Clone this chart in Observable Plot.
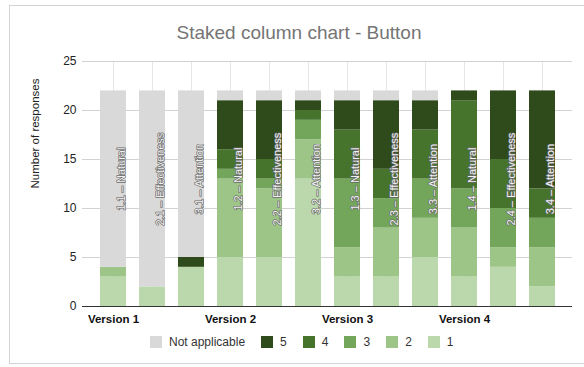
<!DOCTYPE html>
<html>
<head>
<meta charset="utf-8">
<script src="https://cdn.jsdelivr.net/npm/d3@7"></script>
<script src="https://cdn.jsdelivr.net/npm/@observablehq/plot@0.6"></script>
<style>
  body { margin: 0; background: #fff; font-family: "Liberation Sans", Arial, sans-serif; }
  #chart { position: relative; width: 584px; height: 367px; overflow: hidden; background: #fff; }
  .frame { position: absolute; left: 9px; top: 5px; width: 600px; height: 359px; border: 1px solid #d3d3d3; box-sizing: border-box; }
  .title { position: absolute; left: 0; width: 598px; top: 23px; text-align: center; font-size: 19px; line-height: 19px; color: #757575; white-space: nowrap; }
  #plot { position: absolute; left: 0; top: 0; }
  #legend { position: absolute; left: 150px; top: 335px; height: 13px; display: flex; align-items: center; font-size: 12px; color: #333; white-space: nowrap; }
  #legend .item { display: flex; align-items: center; margin-right: 16px; }
  #legend .item:last-child { margin-right: 0; }
  #legend .swatch { width: 12px; height: 12px; margin-right: 7px; }
</style>
</head>
<body>
<div id="chart">
  <div class="frame"></div>
  <div class="title">Staked column chart - Button</div>
  <div id="plot"></div>
  <div id="legend"></div>
</div>
<script>
// Questions, in display order (three per version)
const categories = [
  "1.1 – Natural", "2.1 – Effectiveness", "3.1 – Attention",
  "1.2 – Natural", "2.2 – Effectiveness", "3.2 – Attention",
  "1.3 – Natural", "2.3 – Effectiveness", "3.3 – Attention",
  "1.4 – Natural", "2.4 – Effectiveness", "3.4 – Attention"
];
const versions = ["Version 1", "Version 2", "Version 3", "Version 4"];
const versionStarts = ["1.1 – Natural", "1.2 – Natural", "1.3 – Natural", "1.4 – Natural"];

// Response counts per rating, one value per question
const rating1 = [3, 2, 4, 5, 5, 13, 3, 3, 5, 3, 4, 2];
const rating2 = [1, 0, 0, 8, 7, 4, 3, 5, 4, 5, 2, 4];
const rating3 = [0, 0, 0, 1, 1, 2, 7, 3, 4, 4, 4, 3];
const rating4 = [0, 0, 0, 2, 2, 1, 5, 3, 5, 9, 5, 3];
const rating5 = [0, 0, 1, 5, 6, 1, 3, 7, 3, 1, 7, 10];
const notApplicable = [18, 20, 17, 1, 1, 1, 1, 1, 1, 0, 0, 0];

// Stack order from the baseline up, and legend order
const stackLevels = ["1", "2", "3", "4", "5", "Not applicable"];
const stackSeries = [rating1, rating2, rating3, rating4, rating5, notApplicable];
const legendLevels = ["Not applicable", "5", "4", "3", "2", "1"];
const legendColors = ["#d9d9d9", "#2f4b1b", "#46742c", "#73a65b", "#9dc588", "#bad8ab"];

const yTicks = [0, 5, 10, 15, 20, 25];
const labelY = 13;

const rows = [];
stackLevels.forEach((level, k) => {
  categories.forEach((category, i) => {
    rows.push({category, level, count: stackSeries[k][i]});
  });
});

const font = '"Liberation Sans", Arial, sans-serif';

const chart = Plot.plot({
  width: 584,
  height: 330,
  marginTop: 61,
  marginBottom: 24,
  marginLeft: 82,
  marginRight: 12,
  style: {fontFamily: font, fontSize: "12px", color: "#222", background: "transparent", overflow: "visible"},
  x: {type: "band", domain: categories, padding: 0.34},
  y: {domain: [0, 25]},
  color: {domain: legendLevels, range: legendColors},
  marks: [
    Plot.gridX({stroke: "#e6e6e6", strokeOpacity: 1}),
    Plot.gridY({ticks: yTicks.slice(1), stroke: "#d2d2d2", strokeOpacity: 1}),
    Plot.barY(rows, {x: "category", y: "count", fill: "level", inset: 0}),
    Plot.ruleY([0], {stroke: "#333", strokeWidth: 1}),
    Plot.axisY({ticks: yTicks, tickSize: 0, tickPadding: 6, label: null, fontSize: 12, fill: "#222"}),
    Plot.axisX({
      ticks: versionStarts,
      tickFormat: (d) => versions[versionStarts.indexOf(d)],
      tickSize: 0,
      tickPadding: 8,
      label: null,
      fontSize: 11.5,
      fontWeight: "bold",
      fill: "#111"
    }),
    // Question names written up the middle of each column
    Plot.text(categories, {
      x: (d) => d,
      y: () => labelY,
      text: (d) => d,
      rotate: -90,
      dx: 8,
      fontSize: 11,
      fill: "#f2f2f2",
      stroke: "#6a6a6a",
      strokeWidth: 1.4,
      paintOrder: "stroke"
    }),
    Plot.text(["Number of responses"], {
      frameAnchor: "left",
      rotate: -90,
      dx: -47,
      dy: 4.5,
      fontSize: 11.5,
      fill: "#222"
    })
  ]
});
document.getElementById("plot").append(chart);

// Legend swatches
const legend = document.getElementById("legend");
legendLevels.forEach((level, i) => {
  const item = document.createElement("div");
  item.className = "item";
  const sw = document.createElement("div");
  sw.className = "swatch";
  sw.style.background = legendColors[i];
  const label = document.createElement("span");
  label.textContent = level;
  item.append(sw, label);
  legend.append(item);
});
</script>
</body>
</html>
